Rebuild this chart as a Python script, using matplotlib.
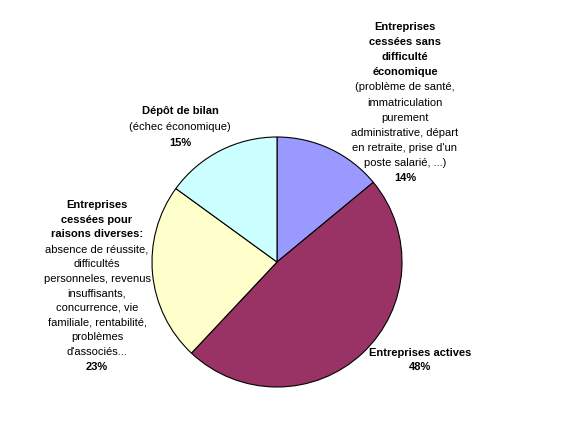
import matplotlib
matplotlib.use("Agg")
from matplotlib import pyplot as plt

# data
categories = ["Entreprises cessées sans difficulté économique",
              "Entreprises actives",
              "Entreprises cessées pour raisons diverses",
              "Dépôt de bilan"]
values = [14, 48, 23, 15]
colors = ["#9999FF", "#993366", "#FFFFCC", "#CCFFFF"]

# label text for each slice: bold heading lines, then plain detail lines
headings = [["Entreprises", "cessées sans", "difficulté", "économique"],
            ["Entreprises actives"],
            ["Entreprises", "cessées pour", "raisons diverses:"],
            ["Dépôt de bilan"]]
details = [["(problème de santé,", "immatriculation", "purement",
            "administrative, départ", "en retraite, prise d'un",
            "poste salarié, ...)"],
           [],
           ["absence de réussite,", "difficultés", "personneles, revenus",
            "insuffisants,", "concurrence, vie", "familiale, rentabilité,",
            "problèmes", "d'associés..."],
           ["(échec économique)"]]

W, H = 587, 424
plt.rcParams['font.family'] = ['Liberation Sans', 'DejaVu Sans']
fig = plt.figure(figsize=(W / 100, H / 100), dpi=100)
ax = fig.add_axes([0, 0, 1, 1])
ax.set_xlim(0, W)
ax.set_ylim(0, H)
ax.set_aspect('equal')
ax.axis('off')

ax.pie(values, colors=colors, startangle=90, counterclock=False,
       center=(277, H - 262), radius=125, frame=True,
       wedgeprops=dict(edgecolor='black', linewidth=0.8))
ax.set_xlim(0, W)
ax.set_ylim(0, H)
ax.axis('off')

# label anchors: (center x, top line y in pixels, line spacing)
anchors = [(405, 27, 15.1), (420, 353, 14.5), (97, 205, 14.7), (180, 111, 16)]

for i in range(len(values)):
    x, y0, step = anchors[i]
    lines = [(t, 'bold') for t in headings[i]] + [(t, 'normal') for t in details[i]]
    lines.append(("%d%%" % values[i], 'bold'))
    for k, (t, w) in enumerate(lines):
        ax.text(x, H - (y0 + k * step), t, ha='center', va='center',
                fontsize=8, fontweight=w, color='black')

fig.savefig("out.png", dpi=100, facecolor='white')
